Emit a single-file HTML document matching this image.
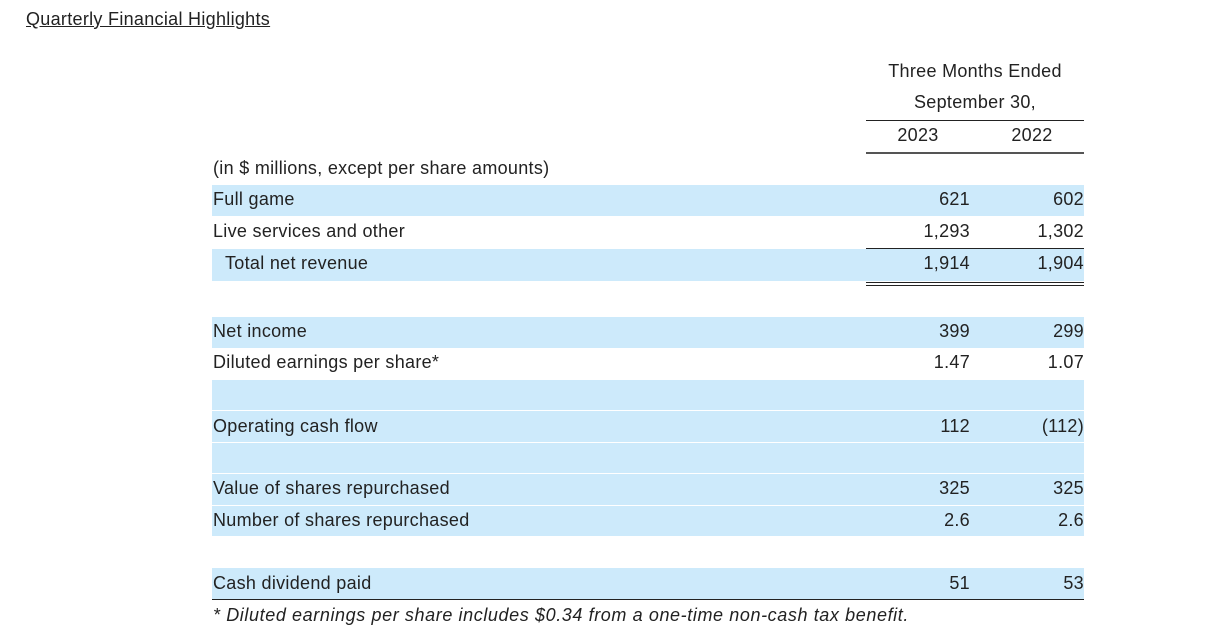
<!DOCTYPE html>
<html><head><meta charset="utf-8"><style>
body{margin:0;width:1215px;height:642px;background:#fff;font-family:"Liberation Sans",sans-serif;color:#222;position:relative;overflow:hidden;letter-spacing:0.3px}
.a{position:absolute;white-space:nowrap}
.band{position:absolute;left:212px;width:872px;background:#cdeafb}
.t{font-size:18px}
.r{text-align:right}
.ln{position:absolute;background:#222}
</style></head><body>
<div class="a" style="left:26px;top:9px;font-size:18px;text-decoration:underline">Quarterly Financial Highlights</div>
<div class="a t" style="left:856px;width:238px;text-align:center;top:61px">Three Months Ended</div>
<div class="a t" style="left:856px;width:238px;text-align:center;top:92px">September 30,</div>
<div class="ln" style="left:866px;top:120px;width:218px;height:1px"></div>
<div class="a t" style="left:880px;width:76px;text-align:center;top:125px">2023</div>
<div class="a t" style="left:994px;width:76px;text-align:center;top:125px">2022</div>
<div class="ln" style="left:866px;top:152px;width:218px;height:2px;background:#555"></div>
<div class="a t" style="left:213px;top:158px">(in $ millions, except per share amounts)</div>

<div class="band" style="top:185px;height:31px"></div>
<div class="band" style="top:249px;height:32px"></div>
<div class="band" style="top:317px;height:31px"></div>
<div class="band" style="top:380px;height:30px"></div>
<div class="band" style="top:411px;height:31px"></div>
<div class="band" style="top:443px;height:30px"></div>
<div class="band" style="top:474px;height:31px"></div>
<div class="band" style="top:506px;height:30px"></div>
<div class="band" style="top:568px;height:31px"></div>

<div class="ln" style="left:866px;top:248px;width:218px;height:1px"></div>
<div class="ln" style="left:866px;top:282px;width:218px;height:1px"></div>
<div class="ln" style="left:866px;top:285px;width:218px;height:1px"></div>
<div class="ln" style="left:212px;top:599px;width:872px;height:1px"></div>

<div id="rows"></div>
<div class="a" style="left:213px;top:605px;font-size:18px;font-style:italic;letter-spacing:0.6px">* Diluted earnings per share includes $0.34 from a one-time non-cash tax benefit.</div>
<script>
const labels=["Full game","Live services and other","Total net revenue","Net income","Diluted earnings per share*","Operating cash flow","Value of shares repurchased","Number of shares repurchased","Cash dividend paid"];
const v2023=["621","1,293","1,914","399","1.47","112","325","2.6","51"];
const v2022=["602","1,302","1,904","299","1.07","(112)","325","2.6","53"];
const tops=[189,221,253,321,352,416,478,510,573];
const c=document.getElementById('rows');
labels.forEach((l,i)=>{
 const d=document.createElement('div');d.className='a t';d.style.left=(i==2?225:213)+'px';d.style.top=tops[i]+'px';d.textContent=l;
 
 
 c.appendChild(d);
 const a=document.createElement('div');a.className='a t r';a.style.left='870px';a.style.width='100px';a.style.top=tops[i]+'px';a.textContent=v2023[i];
 
 
 c.appendChild(a);
 const b=document.createElement('div');b.className='a t r';b.style.left='984px';b.style.width='100px';b.style.top=tops[i]+'px';b.textContent=v2022[i];
 
 
 c.appendChild(b);
});
</script>
</body></html>
